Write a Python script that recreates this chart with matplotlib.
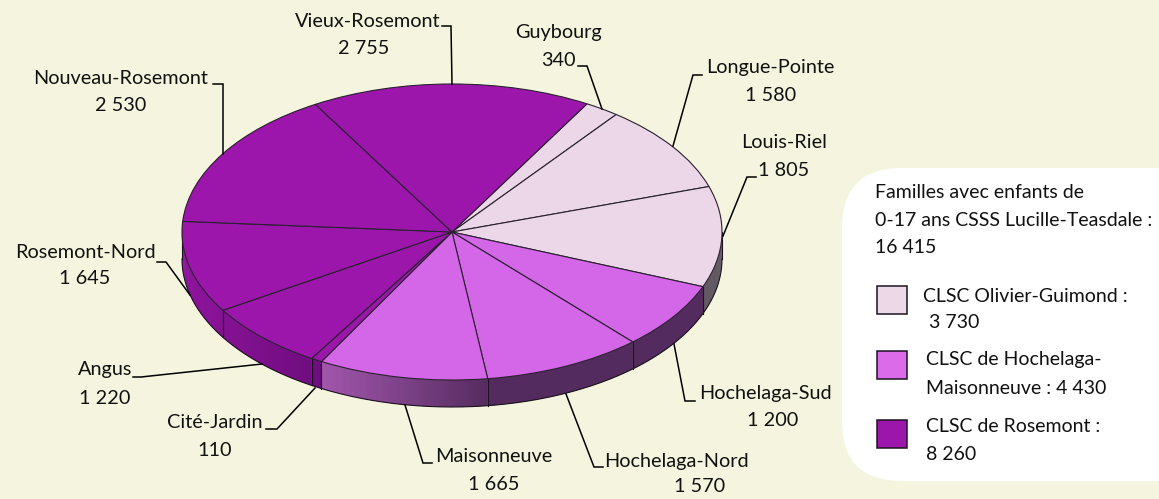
import numpy as np
import matplotlib
matplotlib.use("Agg")
import matplotlib.pyplot as plt
from matplotlib.patches import FancyBboxPatch, Rectangle

plt.rcParams['font.family'] = ['Lato', 'DejaVu Sans']

# ---- data
sectors = ["Guybourg", "Longue-Pointe", "Louis-Riel", "Hochelaga-Sud", "Hochelaga-Nord",
           "Maisonneuve", "Cité-Jardin", "Angus", "Rosemont-Nord", "Nouveau-Rosemont", "Vieux-Rosemont"]
families = [340, 1580, 1805, 1200, 1570, 1665, 110, 1220, 1645, 2530, 2755]
value_labels = ["340", "1 580", "1 805", "1 200", "1 570", "1 665", "110", "1 220", "1 645", "2 530", "2 755"]
groups = [0, 0, 0, 1, 1, 1, 2, 2, 2, 2, 2]
group_labels = ["CLSC Olivier-Guimond :\n 3 730", "CLSC de Hochelaga-\nMaisonneuve : 4 430", "CLSC de Rosemont :\n8 260"]
legend_title = ["Familles avec enfants de", "0-17 ans CSSS Lucille-Teasdale :", "16 415"]

# ---- style / layout
BG = "#F5F5DF"
top_colors = ["#EBD7E8", "#D466E8", "#9C16AC"]
leg_colors = ["#EDD8E8", "#DB6BE8", "#9C16AC"]
side_shade = {
    0: ([650, 725], [(.42, .38, .42), (.38, .34, .38)]),
    1: ([320, 490, 710], [(.64, .34, .68), (.33, .17, .37), (.33, .17, .37)]),
    2: ([180, 310, 322], [(.56, .08, .62), (.44, .05, .50), (.44, .05, .50)]),
}
W, H = 1159, 499
CX, CY, RX, RY, DEPTH = 452, 232, 270, 148, 27
FS = 14.3
FS_LEG = 14.0
# name position, value position, leader
label_layout = {
    "Vieux-Rosemont": ((368, 21), (364, 48), [(452, 84), (451, 26), (442, 26)]),
    "Guybourg": ((558, 32), (558, 60), [(602, 109), (587, 66), (578, 66)]),
    "Longue-Pointe": ((770, 67), (771, 95), [(673, 146), (693, 75), (702, 75)]),
    "Louis-Riel": ((784, 143), (784, 170), [(723, 236), (747, 177), (756, 177)]),
    "Hochelaga-Sud": ((765, 393), (773, 421), [(674, 344), (685, 401), (695, 401)]),
    "Hochelaga-Nord": ((676, 461), (700, 487), [(566, 394), (594, 467), (603, 467)]),
    "Maisonneuve": ((494, 457), (494, 484), [(405, 405), (423, 463), (432, 463)]),
    "Cité-Jardin": ((215, 423), (215, 450), [(315, 388), (277, 429), (266, 429)]),
    "Angus": ((105, 370), (105, 398), [(262, 364), (141, 377), (133, 377)]),
    "Rosemont-Nord": ((85, 253), (85, 279), [(190, 295), (166, 262), (157, 262)]),
    "Nouveau-Rosemont": ((121, 78), (121, 105), [(223, 154), (223, 84), (213, 84)]),
}

fig = plt.figure(figsize=(W / 100, H / 100), dpi=100, facecolor=BG)

# ---- pie axes: unit circle squeezed into the tilted ellipse
ax = fig.add_axes([0, 0, 1, 1], zorder=1)
ax.patch.set_alpha(0)
colors = [top_colors[g] for g in groups]
wedges, _ = ax.pie(families, startangle=60, counterclock=False, colors=colors, radius=1,
                   wedgeprops=dict(edgecolor="#2a2030", linewidth=0.8, zorder=5))
ax.set_aspect('auto')
ax.set_xlim(-CX / RX, (W - CX) / RX)
ax.set_ylim((CY - H) / RY, CY / RY)
ax.axis('off')

d = DEPTH / RY
for w, g in zip(wedges, groups):
    t1, t2 = w.theta1, w.theta2
    # walk the slice in small strips and keep the lower half of the ellipse
    ts = np.append(np.arange(t1, t2, .5), t2)
    for a, b in zip(ts[:-1], ts[1:]):
        m = np.deg2rad((a + b) / 2)
        if np.sin(m) >= 0:
            continue
        ra, rb = np.deg2rad([a, min(b + 0.6, t2)])
        xs = [np.cos(ra), np.cos(rb), np.cos(rb), np.cos(ra)]
        ys = [np.sin(ra), np.sin(rb), np.sin(rb) - d, np.sin(ra) - d]
        px = CX + RX * np.cos(m)
        stops, cols = side_shade[g]
        c = [np.interp(px, stops, [k[i] for k in cols]) for i in range(3)]
        ax.fill(xs, ys, facecolor=c, edgecolor='none', lw=0, zorder=2)
    for t in (t1, t2):
        r = np.deg2rad(t)
        if np.sin(r) < 0:
            ax.plot([np.cos(r)] * 2, [np.sin(r), np.sin(r) - d], color="#1c1420", lw=0.8, zorder=3)

tt = np.deg2rad(np.linspace(180, 360, 300))
ax.plot(np.cos(tt), np.sin(tt) - d, color="#1c1420", lw=0.8, zorder=3)
for e in (180, 360):
    r = np.deg2rad(e)
    ax.plot([np.cos(r)] * 2, [0, -d], color="#1c1420", lw=0.8, zorder=3)

# ---- overlay in pixel coordinates for the labels and legend card
ov = fig.add_axes([0, 0, 1, 1], zorder=2)
ov.patch.set_alpha(0)
ov.set_xlim(0, W)
ov.set_ylim(H, 0)
ov.axis('off')

for name, val in zip(sectors, value_labels):
    (nx, ny), (vx, vy), leader = label_layout[name]
    ov.text(nx, ny, name, ha='center', va='center', fontsize=FS, color="#111111")
    ov.text(vx, vy, val, ha='center', va='center', fontsize=FS, color="#111111")
    ov.plot(*zip(*leader), color="black", lw=1.1, solid_joinstyle='miter')

card = FancyBboxPatch((842 + 60, 168 + 60), 400 - 120, 313 - 120,
                      boxstyle="round,pad=60,rounding_size=60",
                      facecolor="white", edgecolor="none", zorder=1, clip_on=True)
ov.add_patch(card)
for y, s in zip([192, 220, 247], legend_title):
    ov.text(875, y, s, ha='left', va='center', fontsize=FS_LEG, color="#111111", zorder=3)

swatches = [(286, [(923, 296), (929, 323)]), (351, [(926, 360), (926, 388)]), (420, [(926, 427), (926, 455)])]
for (sy, pos), lab, col in zip(swatches, group_labels, leg_colors):
    ov.add_patch(Rectangle((877, sy), 30, 28, facecolor=col, edgecolor="#1c1420", lw=1.1, zorder=3))
    for (tx, ty), line in zip(pos, lab.split("\n")):
        ov.text(tx, ty, line.strip(), ha='left', va='center', fontsize=FS_LEG, color="#111111", zorder=3)

fig.savefig("out.png", dpi=100, facecolor=BG)
